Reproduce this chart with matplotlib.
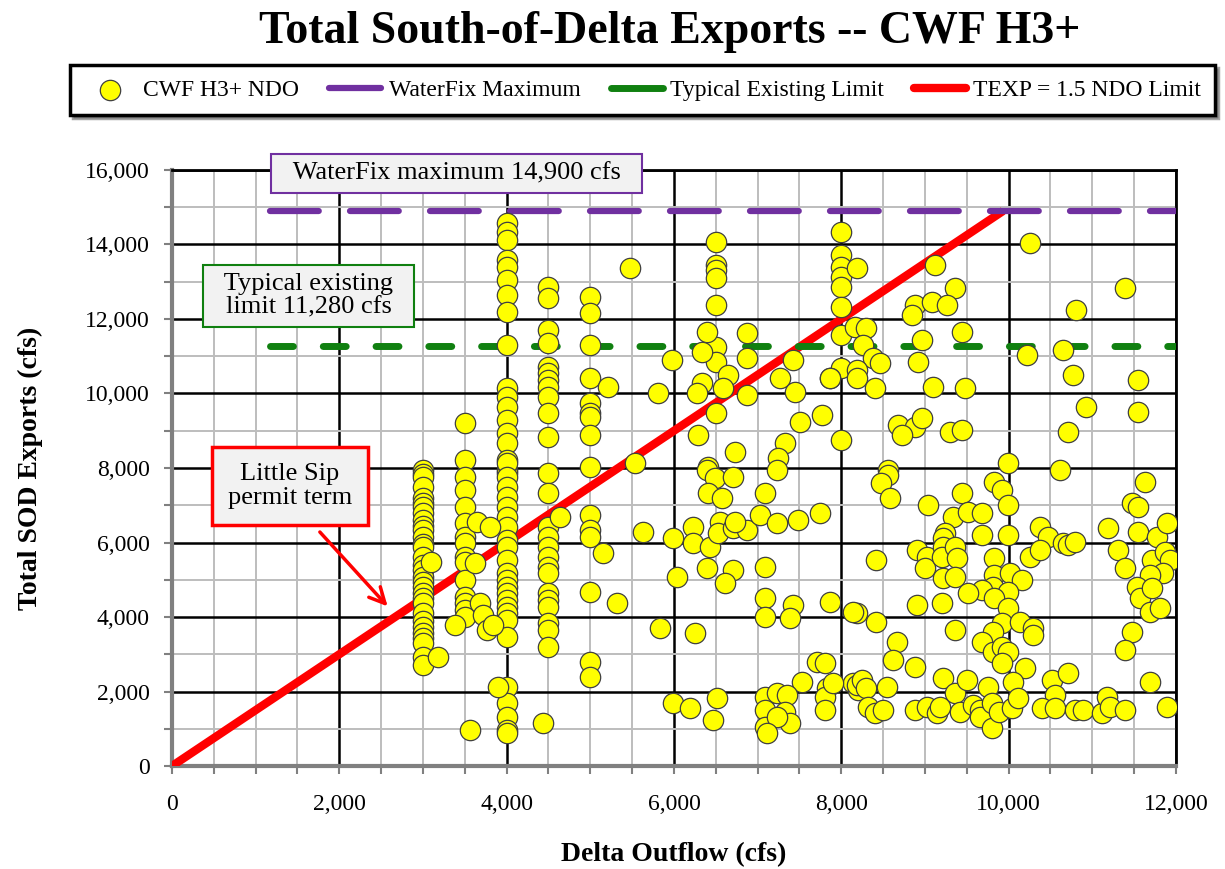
import matplotlib
matplotlib.use("Agg")
import matplotlib.pyplot as plt
from matplotlib.ticker import MultipleLocator, FuncFormatter
import numpy as np

plt.rcParams['font.family'] = ['Liberation Serif', 'DejaVu Serif']

# Delta outflow (cfs) columns of runs at fixed NDO values -> SOD exports (cfs)
col_3000 = [7950, 7850, 7760, 7490, 7200, 7050, 6950, 6800, 6610, 6450, 6340, 6150, 5950,
            5880, 5610, 5400, 5260, 5070, 4950, 4810, 4650, 4500, 4380, 4110, 3900, 3730,
            3570, 3450, 3300, 2930, 2710]
col_3500 = [9210, 8220, 7760, 7410, 6950, 6520, 6150, 5990, 5610, 5480, 4990, 4540, 4380,
            4190, 4000]
col_4000 = [14580, 14340, 14120, 13590, 13400, 13050, 12650, 12190, 11300, 10150, 9910,
            9640, 9290, 8940, 8670, 8210, 7950, 7870, 8140, 7760, 7490, 7220, 6950, 6690,
            6420, 6070, 5880, 5530, 5180, 4990, 4810, 4640, 4460, 4270, 4110, 3920, 3460,
            2120, 1690, 1320, 970, 890]
col_4500 = [12860, 12570, 11710, 11360, 10710, 10550, 10360, 10180, 9910, 9480, 8830, 7870,
            7330, 6420, 6150, 5880, 5610, 5340, 5180, 4640, 4460, 4270, 3840, 3650, 3200]
col_5000 = [12590, 12160, 11300, 10420, 9750, 9480, 9370, 8890, 8030, 6740, 6340, 6150,
            4670, 2790, 2390]
col_6500 = [14070, 13450, 13320, 13100, 12380, 11250, 10850, 9480]
col_8000 = [14340, 13720, 13400, 13130, 12860, 12320, 11570, 10690, 8750]

# remaining (outflow, exports) pairs
low_pts = [(3100, 5480), (3180, 2930), (3650, 6550), (3800, 6420), (3620, 5450),
           (3380, 3790), (3680, 4380), (3720, 4050), (3760, 3650), (3840, 3790),
           (3560, 970), (3900, 2120), (4430, 1150), (4640, 6690)]
mid_pts = [(5470, 13370), (5210, 10180), (5810, 10010), (5975, 10900), (6393, 11650),
           (6333, 11120), (6871, 11630), (6871, 10950), (6644, 10500), (6333, 10280),
           (6274, 10010), (6584, 10150), (6871, 9960), (6285, 8890), (6728, 8430),
           (7325, 8670), (7242, 8270), (7421, 10900), (7266, 10420), (7445, 10040),
           (7505, 9240), (7768, 9420), (7860, 10420), (5530, 8140), (6405, 8030),
           (5150, 5720), (5630, 6280), (5987, 6120), (6035, 5070), (5830, 3700),
           (6250, 3570), (5318, 4380), (5987, 1690), (6190, 1560), (6513, 1830),
           (6465, 1240), (6393, 7950), (6489, 7730), (6704, 7760), (6405, 7330),
           (6573, 7200), (7230, 7950), (7086, 7330), (6226, 6420), (6226, 5990),
           (6430, 5880), (6549, 6550), (6525, 6260), (6704, 6390), (6871, 6340),
           (6728, 6550), (7027, 6740), (7230, 6520), (7481, 6600), (7744, 6790),
           (6393, 5320), (6704, 5260), (6608, 4910), (7086, 5340), (7086, 4510),
           (7086, 4000), (7421, 4320), (7385, 3970), (7863, 4400), (7708, 2790),
           (7803, 2770), (7529, 2260), (7086, 1850), (7086, 1500), (7086, 1050),
           (7230, 1960), (7350, 1910), (7325, 1450), (7385, 1150), (7230, 1320),
           (7827, 2090), (7803, 1850), (7803, 1500), (7110, 890)]
upper_right_pts = [(8185, 13370), (9118, 13450), (9357, 12830), (8880, 12380), (8845, 12110),
                   (9082, 12460), (9260, 12380), (8160, 11790), (8300, 11760), (8260, 11300),
                   (8380, 10950), (8460, 10820), (8185, 10630), (8185, 10420), (8400, 10150),
                   (8960, 11440), (8920, 10850), (9440, 11650), (9100, 10180), (9480, 10150),
                   (8680, 9160), (8880, 9100), (8960, 9340), (8720, 8890), (9300, 8970),
                   (9440, 9020), (8560, 7950), (9990, 8140), (10610, 7950), (10250, 14040),
                   (11390, 12830), (10810, 12240), (10220, 11030), (10650, 11170),
                   (10770, 10500), (11540, 10360), (10930, 9640), (10710, 8970),
                   (11540, 9500), (7860, 10420)]
lower_right_pts = [(8560, 7810), (8480, 7600), (8580, 7200), (11630, 7630), (11470, 7060),
                   (11540, 6950), (9830, 7630), (9920, 7410), (9990, 7010), (9440, 7330),
                   (9040, 7010), (9330, 6690), (9510, 6820), (9680, 6790), (9240, 6260),
                   (9680, 6200), (9990, 6200), (10370, 6420), (10470, 6150), (10250, 5610),
                   (10370, 5800), (10650, 5990), (10710, 5930), (10790, 6010), (11190, 6390),
                   (11540, 6280), (11770, 6150), (11890, 6520), (11310, 5800), (11390, 5320),
                   (11710, 5530), (11870, 5750), (11930, 5530), (11840, 5180), (11690, 5130),
                   (11530, 4810), (11570, 4510), (11710, 4780), (11690, 4140), (11810, 4240),
                   (11470, 3600), (11390, 3110), (11690, 2260), (11890, 1580), (8900, 5800),
                   (9020, 5610), (9000, 5320), (8420, 5530), (9210, 6120), (9210, 5880),
                   (9200, 5610), (9360, 5880), (9380, 5580), (9210, 5050), (9360, 5070),
                   (9830, 5580), (9830, 5130), (10010, 5180), (10160, 4990), (9810, 4810),
                   (9990, 4670), (9680, 4730), (9510, 4640), (9830, 4510), (8185, 4110),
                   (8420, 3870), (8900, 4320), (9200, 4380), (9990, 4240), (9360, 3650),
                   (9920, 3840), (9810, 3600), (10130, 3870), (10290, 3700), (10290, 3520),
                   (9680, 3330), (9810, 3060), (9920, 3200), (9990, 3060), (9920, 2770),
                   (8660, 3330), (8620, 2850), (8880, 2660), (10190, 2630), (10050, 2260),
                   (10520, 2310), (10710, 2500), (10550, 1910), (8140, 4140), (8140, 2230),
                   (8200, 2040), (7900, 2230), (8185, 2170), (8245, 2310), (8300, 2090),
                   (8540, 2120), (8320, 1580), (8400, 1420), (8500, 1500), (8880, 1500),
                   (9020, 1580), (9140, 1420), (9180, 1580), (9210, 2360), (9360, 1960),
                   (9500, 2310), (9420, 1450), (9570, 1640), (9660, 1500), (9660, 1320),
                   (9750, 2120), (9800, 1690), (9800, 1020), (9890, 1450), (10040, 1560),
                   (10110, 1830), (10400, 1560), (10550, 1560), (10790, 1500), (10890, 1500),
                   (11110, 1420), (11170, 1850), (11210, 1580), (11390, 1500)]

waterfix_max = 14900
typical_limit = 11280
texp_ratio = 1.5
limit_line_start = 1170

# build the full point set
xs, ys = [], []
for ndo, col in [(3000, col_3000), (3500, col_3500), (4000, col_4000), (4500, col_4500),
                 (5000, col_5000), (6500, col_6500), (8000, col_8000)]:
    xs += [ndo] * len(col)
    ys += col
for pts in [low_pts, mid_pts, upper_right_pts, lower_right_pts]:
    xs += [p[0] for p in pts]
    ys += [p[1] for p in pts]

fig = plt.figure(figsize=(12.25, 8.69), dpi=100)
ax = fig.add_axes([0.1404, 0.1185, 0.8196, 0.6859])

red_x = np.array([0, waterfix_max / texp_ratio])
ax.plot(red_x, red_x * texp_ratio, color='#ff0000', lw=6, solid_capstyle='butt', zorder=3,
        label='TEXP = 1.5 NDO Limit')
ax.plot([limit_line_start, 12000], [waterfix_max] * 2, color='#7030a0', lw=4.5,
        dashes=(7.8, 5), dash_capstyle='round', zorder=3, label='WaterFix Maximum')
ax.plot([limit_line_start, 12000], [typical_limit] * 2, color='#108010', lw=5,
        dashes=(3.3, 4.3), dash_capstyle='round', zorder=3, label='Typical Existing Limit')
sc = ax.scatter(xs, ys, s=215, c='#ffff00', edgecolors='#404040', linewidths=0.9, zorder=4,
                label='CWF H3+ NDO')

ax.set_xlim(0, 12000)
ax.set_ylim(0, 16000)
ax.xaxis.set_major_locator(MultipleLocator(2000))
ax.xaxis.set_minor_locator(MultipleLocator(500))
ax.yaxis.set_major_locator(MultipleLocator(2000))
ax.yaxis.set_minor_locator(MultipleLocator(1000))
fmt = FuncFormatter(lambda v, p: f"{v:,.0f}")
ax.xaxis.set_major_formatter(fmt)
ax.yaxis.set_major_formatter(fmt)
ax.grid(which='minor', color='#bdbdbd', lw=1.4, zorder=0)
ax.grid(which='major', color='black', lw=1.8, zorder=1)
ax.set_axisbelow(True)
ax.tick_params(which='both', direction='out', color='#808080', width=1.5, length=6,
               labelsize=17)
ax.tick_params(axis='x', which='major', pad=14)
ax.tick_params(axis='y', which='major', pad=10)
for s in ['left', 'bottom']:
    ax.spines[s].set_color('#808080')
    ax.spines[s].set_linewidth(3)
for s in ['top', 'right']:
    ax.spines[s].set_color('black')
    ax.spines[s].set_linewidth(2)

ax.set_xlabel('Delta Outflow (cfs)', fontsize=20, fontweight='bold', labelpad=20)
ax.set_ylabel('Total SOD Exports (cfs)', fontsize=20, fontweight='bold', labelpad=30)
fig.suptitle('Total South-of-Delta Exports -- CWF H3+', fontsize=33, fontweight='bold',
             x=0.547, y=0.987)

# callout boxes
ax.text(3406, 15895, '  WaterFix maximum 14,900 cfs  ', fontsize=19, ha='center',
        va='center', clip_on=False, zorder=6,
        bbox=dict(boxstyle='square,pad=0.32', fc='#f2f2f2', ec='#7030a0', lw=1.5))
ax.text(1637, 12620, '  Typical existing  \nlimit 11,280 cfs', fontsize=19, ha='center',
        va='center', zorder=6, linespacing=1.1,
        bbox=dict(boxstyle='square,pad=0.3', fc='#f2f2f2', ec='#108010', lw=1.5))
ax.text(1410, 7518, 'Little Sip\npermit term', fontsize=19, ha='center', va='center',
        zorder=6, linespacing=1.1,
        bbox=dict(boxstyle='square,pad=0.6', fc='#f2f2f2', ec='#ff0000', lw=2.5))
ax.annotate('', xy=(2600, 4230), xytext=(1745, 6337), zorder=6,
            arrowprops=dict(arrowstyle='->', color='#ff0000', lw=2.5, mutation_scale=28))

# legend across the top
h = [sc] + ax.get_lines()[1:3] + ax.get_lines()[:1]
leg = fig.legend(h, [x.get_label() for x in h], loc='center', ncol=4, mode='expand',
                 bbox_to_anchor=(0.057, 0.8645, 0.935, 0.063), fontsize=17, frameon=True,
                 fancybox=False, shadow=True, handlelength=2.2, handletextpad=0.3,
                 scatterpoints=1, borderaxespad=0, borderpad=0.6)
leg.get_frame().set_edgecolor('black')
leg.get_frame().set_linewidth(2.5)
for lh in leg.legend_handles[1:]:
    lh.set_dashes((None, None))
    lh.set_linestyle('-')
    lh.set_solid_capstyle('round')

fig.savefig('out.png', dpi=100)
